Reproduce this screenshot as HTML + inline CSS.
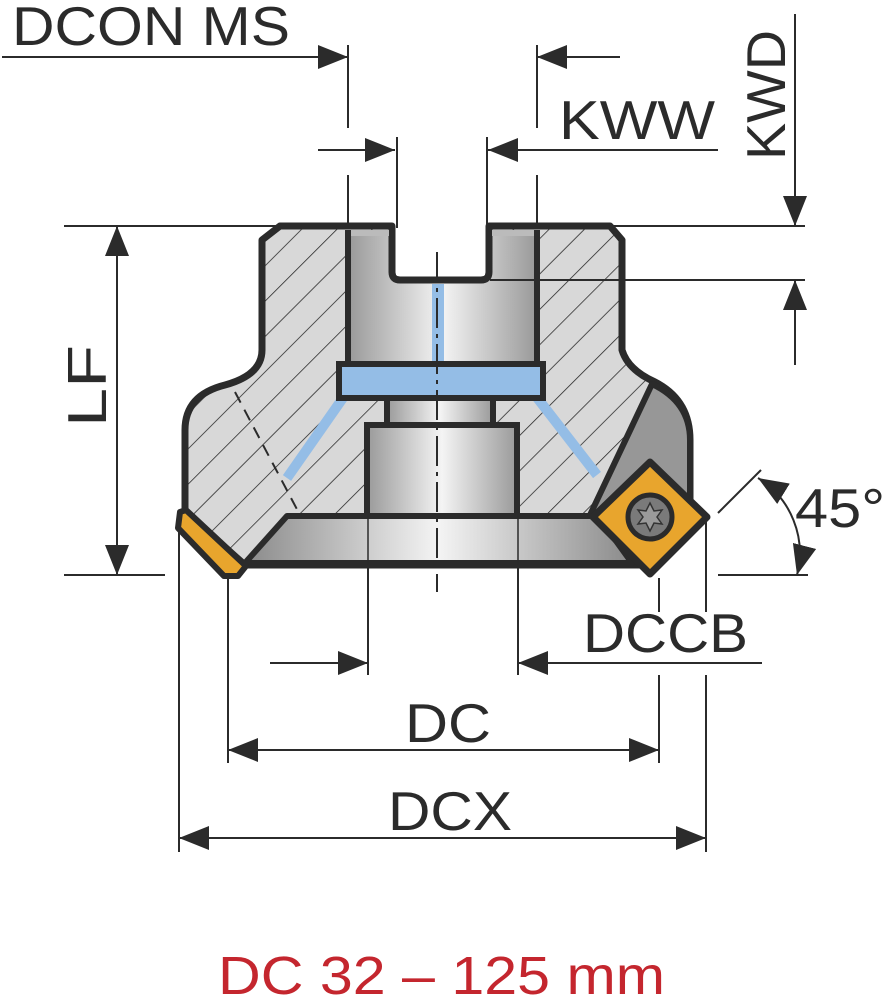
<!DOCTYPE html>
<html><head><meta charset="utf-8">
<style>
html,body{margin:0;padding:0;background:#fff;}
svg{display:block;}
text{font-family:"Liberation Sans",Arial,sans-serif;fill:#2b2b2b;}
</style></head>
<body>
<svg width="884" height="1000" viewBox="0 0 884 1000" xmlns="http://www.w3.org/2000/svg">
<defs>
<pattern id="hatch" patternUnits="userSpaceOnUse" width="25" height="25" patternTransform="rotate(-45)">
<rect width="25" height="25" fill="#d8d8d8"/>
<line x1="0" y1="0" x2="25" y2="0" stroke="#222" stroke-width="1.5"/>
</pattern>
<linearGradient id="cyl" x1="0" x2="1" y1="0" y2="0">
<stop offset="0" stop-color="#9a9a9a"/><stop offset="0.5" stop-color="#f4f4f4"/><stop offset="1" stop-color="#9a9a9a"/>
</linearGradient>
<linearGradient id="flange" x1="0" x2="1" y1="0" y2="0">
<stop offset="0" stop-color="#8a8a8a"/><stop offset="0.5" stop-color="#f4f4f4"/><stop offset="1" stop-color="#8a8a8a"/>
</linearGradient>
<marker id="a" viewBox="0 0 30 24" refX="30" refY="12" markerWidth="30" markerHeight="24" markerUnits="userSpaceOnUse" orient="auto-start-reverse">
<path d="M0,0 L30,12 L0,24 Z" fill="#2b2b2b"/>
</marker>
</defs>

<!-- body -->
<path d="M280,226 L392,226 L392,272 Q392,280 400,280 L481,280 Q489,280 489,272 L489,226 L610,226 L622,240 L622,350 Q628,370 655,382 Q690,400 690,440 L690,500 L640,565 L245,565 L185,512 L185,430 Q185,395 225,385 Q262,375 262,350 L262,240 Z" fill="url(#hatch)" stroke="#2b2b2b" stroke-width="7" stroke-linejoin="round"/>

<!-- dashed line left -->
<line x1="235" y1="392" x2="300" y2="515" stroke="#2b2b2b" stroke-width="2" stroke-dasharray="12,8"/>

<!-- blue coolant channels -->
<line x1="345" y1="395" x2="287" y2="478" stroke="#94bde6" stroke-width="10"/>
<line x1="535" y1="395" x2="597" y2="475" stroke="#94bde6" stroke-width="10"/>

<!-- shaft bore -->
<path d="M349,232 L392,232 L392,272 Q392,280 400,280 L481,280 Q489,280 489,272 L489,232 L536,232 L536,365 L349,365 Z" fill="url(#cyl)"/>
<line x1="348" y1="230" x2="348" y2="366" stroke="#2b2b2b" stroke-width="6"/>
<line x1="537" y1="230" x2="537" y2="366" stroke="#2b2b2b" stroke-width="6"/>
<path d="M392,226 L392,272 Q392,280 400,280 L481,280 Q489,280 489,272 L489,226" fill="none" stroke="#2b2b2b" stroke-width="7"/>
<rect x="351" y="230" width="38" height="6" fill="#bbb"/>
<rect x="492" y="230" width="42" height="6" fill="#bbb"/>
<rect x="432" y="284" width="12" height="79" fill="#94bde6"/>
<!-- blue ring -->
<rect x="339" y="364" width="204" height="34" fill="#94bde6" stroke="#2b2b2b" stroke-width="6"/>
<!-- neck -->
<rect x="387" y="398" width="106" height="28" fill="url(#cyl)" stroke="#2b2b2b" stroke-width="6"/>
<!-- lower bore -->
<rect x="367" y="425" width="150" height="92" fill="url(#cyl)" stroke="#2b2b2b" stroke-width="6"/>
<!-- flange -->
<path d="M287,516 L598,516 L632,563 L245,563 Z" fill="url(#flange)" stroke="#2b2b2b" stroke-width="6" stroke-linejoin="round"/>
<line x1="368" y1="516" x2="368" y2="565" stroke="#2b2b2b" stroke-width="1.5"/>
<line x1="518" y1="516" x2="518" y2="565" stroke="#2b2b2b" stroke-width="1.5"/>

<!-- pocket -->
<path d="M652,384 Q690,402 690,440 L690,500 L610,515 L590,515 Z" fill="#979797" stroke="#2b2b2b" stroke-width="6" stroke-linejoin="round"/>

<!-- left insert -->
<path d="M180,512 L186,510 L246,566 L238,576 L224,576 L178,528 Z" fill="#e8a52d" stroke="#2b2b2b" stroke-width="6" stroke-linejoin="round"/>

<!-- right insert -->
<path d="M650,462 L707,517 L650,574 L593,517 Z" fill="#e8a52d" stroke="#2b2b2b" stroke-width="7" stroke-linejoin="round"/>
<circle cx="650" cy="517" r="22" fill="#7a7a7a" stroke="#2b2b2b" stroke-width="5"/>
<path d="M650,503 L654,511 L662,510 L657,517 L662,524 L654,523 L650,531 L646,523 L638,524 L643,517 L638,510 L646,511 Z" fill="#9a9a9a" stroke="#333" stroke-width="1.5"/>

<!-- centre line -->
<line x1="437" y1="252" x2="437" y2="592" stroke="#2b2b2b" stroke-width="2" stroke-dasharray="30,6,4,6"/>

<!-- dimension lines -->
<g stroke="#2b2b2b" stroke-width="2" fill="none">
<line x1="2" y1="57" x2="348" y2="57" marker-end="url(#a)"/>
<line x1="620" y1="57" x2="537" y2="57" marker-end="url(#a)"/>
<line x1="348" y1="45" x2="348" y2="128"/><line x1="348" y1="175" x2="348" y2="226"/>
<line x1="537" y1="45" x2="537" y2="128"/><line x1="537" y1="175" x2="537" y2="226"/>
<line x1="318" y1="150" x2="395" y2="150" marker-end="url(#a)"/>
<line x1="718" y1="150" x2="488" y2="150" marker-end="url(#a)"/>
<line x1="397" y1="137" x2="397" y2="228"/>
<line x1="487" y1="137" x2="487" y2="228"/>
<line x1="795" y1="14" x2="795" y2="226" marker-end="url(#a)"/>
<line x1="795" y1="365" x2="795" y2="280" marker-end="url(#a)"/>
<line x1="610" y1="226" x2="805" y2="226"/>
<line x1="490" y1="280" x2="805" y2="280"/>
<line x1="117" y1="400" x2="117" y2="226" marker-end="url(#a)"/>
<line x1="117" y1="400" x2="117" y2="575" marker-end="url(#a)"/>
<line x1="64" y1="226" x2="280" y2="226"/>
<line x1="64" y1="575" x2="165" y2="575"/>
<line x1="718" y1="575" x2="808" y2="575"/>
<line x1="718" y1="513" x2="761" y2="470"/>
<path d="M758,478 A88,88 0 0 1 797,575" marker-start="url(#a)" marker-end="url(#a)"/>
<line x1="270" y1="663" x2="368" y2="663" marker-end="url(#a)"/>
<line x1="762" y1="663" x2="518" y2="663" marker-end="url(#a)"/>
<line x1="368" y1="566" x2="368" y2="675"/>
<line x1="518" y1="566" x2="518" y2="675"/>
<line x1="440" y1="750" x2="228" y2="750" marker-end="url(#a)"/>
<line x1="440" y1="750" x2="659" y2="750" marker-end="url(#a)"/>
<line x1="228" y1="578" x2="228" y2="763"/>
<line x1="659" y1="578" x2="659" y2="612"/><line x1="659" y1="675" x2="659" y2="763"/>
<line x1="440" y1="838" x2="179" y2="838" marker-end="url(#a)"/>
<line x1="440" y1="838" x2="706" y2="838" marker-end="url(#a)"/>
<line x1="179" y1="520" x2="179" y2="852"/>
<line x1="706" y1="520" x2="706" y2="612"/><line x1="706" y1="675" x2="706" y2="852"/>
</g>

<!-- labels -->
<text x="12" y="45" font-size="55" textLength="278" lengthAdjust="spacingAndGlyphs">DCON MS</text>
<text x="559" y="139" font-size="55" textLength="156" lengthAdjust="spacingAndGlyphs">KWW</text>
<text transform="translate(785,160) rotate(-90)" font-size="55" textLength="130" lengthAdjust="spacingAndGlyphs">KWD</text>
<text transform="translate(106,427) rotate(-90)" font-size="55" textLength="82" lengthAdjust="spacingAndGlyphs">LF</text>
<text x="795" y="527" font-size="55" textLength="90" lengthAdjust="spacingAndGlyphs">45°</text>
<text x="583" y="652" font-size="55" textLength="165" lengthAdjust="spacingAndGlyphs">DCCB</text>
<text x="405" y="742" font-size="55" textLength="86" lengthAdjust="spacingAndGlyphs">DC</text>
<text x="388" y="830" font-size="55" textLength="124" lengthAdjust="spacingAndGlyphs">DCX</text>
<text x="218" y="994" font-size="54" textLength="447" lengthAdjust="spacingAndGlyphs" style="fill:#c4262e">DC 32 – 125 mm</text>
</svg>
</body></html>
